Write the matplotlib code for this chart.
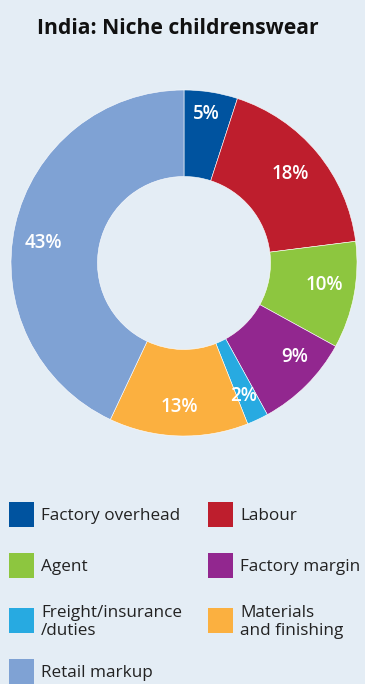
import matplotlib
matplotlib.use('Agg')

from matplotlib import pyplot as plt
from matplotlib.patches import Rectangle
import numpy as np

# Cost breakdown, clockwise from twelve o'clock
categories = ["Factory overhead", "Labour", "Agent", "Factory margin",
              "Freight/insurance\n/duties", "Materials\nand finishing", "Retail markup"]
shares = [5, 18, 10, 9, 2, 13, 43]
colors = ["#00539F", "#BE1E2D", "#8DC63F", "#92278F", "#27AAE1", "#FBB040", "#7FA2D4"]

# hand-tuned label placement: radius (fraction of outer) and angle nudge (deg)
label_r = [0.87, 0.80, 0.82, 0.84, 0.84, 0.83, 0.82]
label_nudge = [0.5, 0.5, 2.0, 4.5, -1.0, 0.0, 4.5]

BG = "#E4EDF5"
W, H = 365, 684

plt.rcParams['font.family'] = ['Open Sans', 'DejaVu Sans']

fig = plt.figure(figsize=(W / 100, H / 100), dpi=100, facecolor=BG)

# donut: centre (184, 263) px, outer radius 173 px
cx, cy, r = 184, 263, 173
ax = fig.add_axes([(cx - r) / W, (H - cy - r) / H, 2 * r / W, 2 * r / H])
ax.set_facecolor(BG)
wedges, texts, autotexts = ax.pie(
    shares, colors=colors, startangle=90, counterclock=False, radius=1.0,
    autopct=lambda p: f"{p:.0f}%", pctdistance=0.83,
    wedgeprops=dict(width=0.5, edgecolor="white", linewidth=0.4),
    textprops=dict(color="white", fontsize=13.5, fontweight="semibold"))

for w, t, rr, nd in zip(wedges, autotexts, label_r, label_nudge):
    ang = np.deg2rad((w.theta1 + w.theta2) / 2 + nd)
    t.set_position((rr * np.cos(ang), rr * np.sin(ang)))

ax.set_xlim(-1, 1)
ax.set_ylim(-1, 1)
ax.axis("off")

# title
fig.text(178 / W, 1 - 28 / H, "India: Niche childrenswear", ha="center", va="center",
         fontsize=15.2, fontweight="bold", color="#111111")

# legend drawn in pixel space
lax = fig.add_axes([0, 0, 1, 1])
lax.set_xlim(0, W)
lax.set_ylim(H, 0)
lax.axis("off")
lax.patch.set_alpha(0)

col_x = [9, 208]
row_y = [514, 565, 620, 671]
for k, idx in enumerate(range(len(categories))):
    col, row = k % 2, k // 2
    x, y = col_x[col], row_y[row]
    lax.add_patch(Rectangle((x, y - 12.5), 25, 25, facecolor=colors[idx], edgecolor="none"))
    lax.text(x + 32, y + 2, categories[idx], ha="left", va="center",
             fontsize=12.3, color="#222222", linespacing=1.15)

fig.savefig("out.png", dpi=100, facecolor=BG)
